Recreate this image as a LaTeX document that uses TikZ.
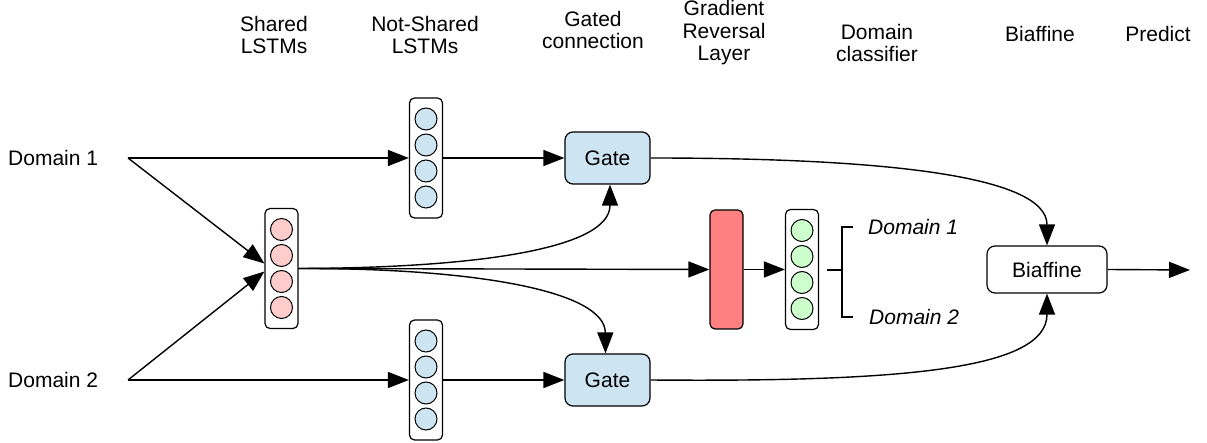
\documentclass[tikz,border=0pt]{standalone}
\usepackage{fontspec}
\setmainfont{Liberation Sans}
\usetikzlibrary{arrows.meta,calc}
\definecolor{lblue}{RGB}{205,228,243}
\definecolor{lpink}{RGB}{255,204,204}
\definecolor{lgreen}{RGB}{204,255,204}
\definecolor{grlred}{RGB}{255,128,128}
\newcommand\mylstm[4]{%
  \node[lstmbox] (#1) at (#2,#3) {};
  \foreach \k/\o in {1/-39,2/-13,3/13,4/39}
    \node[cell, fill=#4] (#1c\k) at ($(#1)+(0,\o)$) {};
}
\begin{document}
\begin{tikzpicture}[x=1pt,y=-1pt,
  txt/.style={inner sep=0pt, font=\fontsize{21}{22.5}\selectfont, align=center},
  lstmbox/.style={draw, rounded corners=5pt, line width=1.2pt, minimum width=33pt, minimum height=120pt, inner sep=0pt, fill=white},
  cell/.style={draw, circle, line width=1pt, minimum size=22pt, inner sep=0pt},
  boxnode/.style={draw, rounded corners=8pt, line width=1.2pt, inner sep=0pt, font=\fontsize{21}{22.5}\selectfont},
  conn/.style={line width=1.4pt, -{Triangle[length=21pt,width=16pt]}},
  plain/.style={line width=1.2pt}
]
\useasboundingbox (0,0) rectangle (1207,443);

% headers
\node[txt] (h1) at (274,35) {Shared\\LSTMs};
\node[txt] (h2) at (425,35) {Not-Shared\\LSTMs};
\node[txt] (h3) at (593,30) {Gated\\connection};
\node[txt] (h4) at (724,33) {Gradient\\Reversal\\Layer};
\node[txt] (h5) at (877,43) {Domain\\classifier};
\node[txt] (h6) at (1040,34) {Biaffine};
\node[txt] (h7) at (1158,34) {Predict};

% inputs
\node[txt, anchor=west] (d1) at (8,158) {Domain 1};
\node[txt, anchor=west] (d2) at (8,380) {Domain 2};
\coordinate (d1o) at (128,158);
\coordinate (d2o) at (128,380);

% LSTMs
\mylstm{sh}{281.5}{268.5}{lpink}
\mylstm{ns1}{426}{158}{lblue}
\mylstm{ns2}{426}{380}{lblue}
\mylstm{dc}{802}{269.5}{lgreen}

% GRL
\node[draw, rounded corners=5pt, line width=1.2pt, minimum width=33pt, minimum height=119pt, fill=grlred] (grl) at (726.5,269.5) {};

% gates
\node[boxnode, fill=lblue, minimum width=85pt, minimum height=52pt] (g1) at (607.5,158) {Gate};
\node[boxnode, fill=lblue, minimum width=85pt, minimum height=52pt] (g2) at (607.5,380) {Gate};

% biaffine
\node[boxnode, fill=white, minimum width=120pt, minimum height=47pt] (bi) at (1047,269.5) {Biaffine};
\coordinate (pred) at (1190,270);

% domain labels
\node[txt, anchor=west, font=\fontsize{21}{22.5}\selectfont\itshape] (o1) at (868,227) {Domain 1};
\node[txt, anchor=west, font=\fontsize{21}{22.5}\selectfont\itshape] (o2) at (869,317) {Domain 2};

% connectors
\draw[conn] (d1o) -- (ns1.west);
\draw[conn] (d1o) -- ([yshift=5pt]sh.west);
\draw[conn] (d2o) -- (ns2.west);
\draw[conn] (d2o) -- ([yshift=-3pt]sh.west);
\draw[conn] (ns1.east) -- (g1.west);
\draw[conn] (ns2.east) -- (g2.west);
\draw[conn] (sh.east) .. controls (470,268) and (610,250) .. ([xshift=2.5pt]g1.south);
\draw[conn] (sh.east) .. controls (470,268) and (605,290) .. ([xshift=-2pt]g2.north);
\draw[conn] (sh.east) -- (grl.west);
\draw[conn] (grl.east) -- (dc.west);
\draw[conn] (g1.east) .. controls (880,158) and (1047,175) .. (bi.north);
\draw[conn] (g2.east) .. controls (900,382) and (1047,370) .. (bi.south);
\draw[conn] (bi.east) -- (pred);

% bracket
\coordinate (bs) at (827,270);
\coordinate (bm) at (842,270);
\draw[plain] (bs) -- (bm);
\draw[plain] ([xshift=-15pt]o1.west) -- (842,227) -- (842,317) -- ([xshift=-16pt]o2.west);
\end{tikzpicture}
\end{document}
